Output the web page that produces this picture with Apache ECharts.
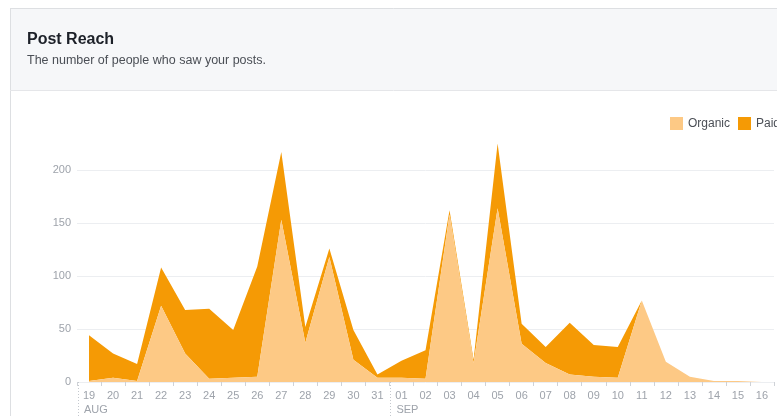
<!DOCTYPE html>
<html>
<head>
<meta charset="utf-8">
<script src="https://cdn.jsdelivr.net/npm/echarts@6/dist/echarts.min.js"></script>
<style>
html,body{margin:0;padding:0;background:#fff;}
#c{width:777px;height:416px;}
</style>
</head>
<body>
<div id="c"></div>
<script>
const days = ['19','20','21','22','23','24','25','26','27','28','29','30','31','01','02','03','04','05','06','07','08','09','10','11','12','13','14','15','16'];
const monthStarts = [{index:0,label:'AUG'},{index:13,label:'SEP'}];
const organic = [1,4,1,72,27,3,4,5,153,37,118,21,4,4,3,158,18,164,36,18,7,5,4,77,19,5,1,1,1];
const paid = [43,23,16,36,41,66,45,104,64,15,8,28,3,16,27,4,3,61,19,15,49,30,29,0,0,0,0,0,0];
const yTicks = [0,50,100,150,200];

const FONT = 'Helvetica, Arial, "Liberation Sans", sans-serif';
const GRAY = '#9ea3ab';
const chart = echarts.init(document.getElementById('c'), null, {renderer:'canvas'});

const option = {
  animation: false,
  textStyle: {fontFamily: FONT},
  grid: {left: 77, right: 3, top: 170, bottom: 34, containLabel: false},
  legend: {
    orient: 'horizontal',
    left: 665, top: 112, width: 300,
    itemWidth: 13, itemHeight: 13, itemGap: 8,
    icon: 'rect',
    textStyle: {fontSize: 12, color: '#4b4f56', fontFamily: FONT},
    data: ['Organic','Paid']
  },
  xAxis: {
    type: 'category',
    data: days,
    boundaryGap: true,
    axisLine: {show: false},
    axisTick: {show: true, length: 4, lineStyle: {color: '#cfd2d7'}, interval: 0},
    axisLabel: {color: GRAY, fontSize: 11, margin: 8, interval: 0, fontFamily: FONT},
    splitLine: {show: false}
  },
  yAxis: {
    type: 'value',
    min: yTicks[0], max: yTicks[yTicks.length-1], interval: 50,
    axisLine: {show: false},
    axisTick: {show: false},
    axisLabel: {color: GRAY, fontSize: 11, margin: 6, fontFamily: FONT},
    splitLine: {lineStyle: {color: '#eceef1', width: 1}}
  },
  series: [
    {
      name: 'Organic', type: 'line', stack: 'total', data: organic,
      showSymbol: false, symbol: 'none', clip: false,
      lineStyle: {width: 0}, itemStyle: {color: '#fdc985'},
      areaStyle: {color: '#fdc985', opacity: 1}, z: 3
    },
    {
      name: 'Paid', type: 'line', stack: 'total', data: paid,
      showSymbol: false, symbol: 'none', clip: false,
      lineStyle: {width: 0}, itemStyle: {color: '#f59a05'},
      areaStyle: {color: '#f59a05', opacity: 1}, z: 2
    }
  ]
};
chart.setOption(option);

// card frame and header, plus month markers positioned from the axis scale
const c0 = chart.convertToPixel({xAxisIndex: 0}, 0);
const c1 = chart.convertToPixel({xAxisIndex: 0}, 1);
const band = c1 - c0;
const yZero = chart.convertToPixel({yAxisIndex: 0}, 0);
const graphics = [
  {type:'rect', z:-10, silent:true, shape:{x:10, y:8, width:780, height:82}, style:{fill:'#f6f7f9'}},
  {type:'line', z:-9, silent:true, shape:{x1:10, y1:8.5, x2:777, y2:8.5}, style:{stroke:'#dddfe2', lineWidth:1}},
  {type:'line', z:-9, silent:true, shape:{x1:10.5, y1:8, x2:10.5, y2:416}, style:{stroke:'#dddfe2', lineWidth:1}},
  {type:'line', z:-9, silent:true, shape:{x1:10, y1:90.5, x2:777, y2:90.5}, style:{stroke:'#e5e6e9', lineWidth:1}},
  {type:'text', silent:true, left:27, top:32, style:{text:'Post Reach', fill:'#1d2129', font:'bold 16px ' + FONT}},
  {type:'text', silent:true, left:27, top:54, style:{text:'The number of people who saw your posts.', fill:'#4b4f56', font:'12.5px ' + FONT}}
];
monthStarts.forEach(function(m){
  const bx = chart.convertToPixel({xAxisIndex: 0}, m.index) - band/2;
  const lx = Math.round(bx) + 1.5;
  graphics.push({type:'line', silent:true, shape:{x1:lx, y1:yZero, x2:lx, y2:416}, style:{stroke:'#c4c8ce', lineWidth:1, lineDash:[1,2]}});
  graphics.push({type:'text', silent:true, left: bx + 7, top: yZero + 22, style:{text:m.label, fill:GRAY, font:'11px ' + FONT}});
});
chart.setOption({graphic: graphics});
</script>
</body>
</html>
